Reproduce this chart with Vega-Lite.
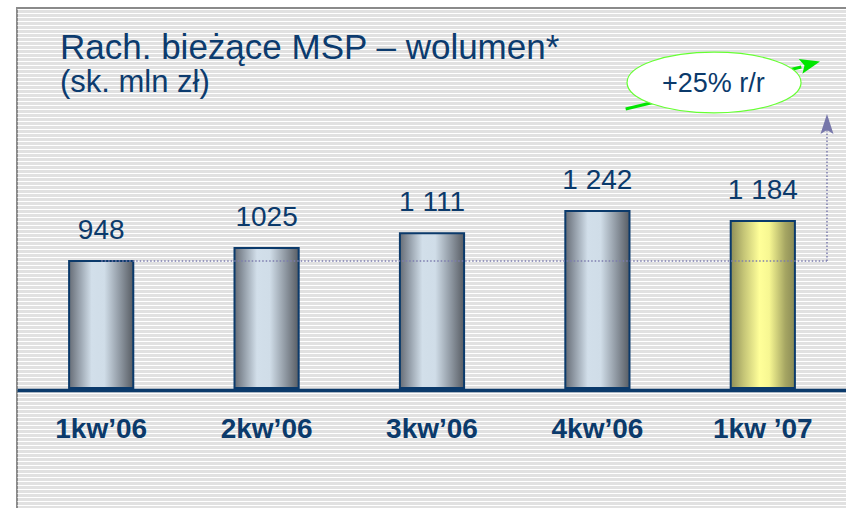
{
  "$schema": "https://vega.github.io/schema/vega-lite/v6.json",
  "width": 830,
  "height": 501,
  "autosize": "none",
  "padding": {"left": 17, "top": 8, "right": 0, "bottom": 0},
  "background": "white",
  "config": {
    "view": {"fill": "#e1e1e1", "stroke": "#8a8a8a", "strokeWidth": 2},
    "font": "Liberation Sans"
  },
  "title": {
    "text": "Rach. bieżące MSP – wolumen*",
    "subtitle": "(sk. mln zł)",
    "anchor": "start",
    "frame": "group",
    "offset": -90,
    "dx": 43,
    "fontSize": 35,
    "fontWeight": "normal",
    "color": "#0c3b6e",
    "font": "Liberation Sans",
    "subtitleFont": "Liberation Sans",
    "subtitleFontSize": 31,
    "subtitleColor": "#0c3b6e",
    "subtitlePadding": 2
  },
  "data": {
    "values": [
      {"q": "1kw’06", "v": 948, "label": "948"},
      {"q": "2kw’06", "v": 1025, "label": "1025"},
      {"q": "3kw’06", "v": 1111, "label": "1 111"},
      {"q": "4kw’06", "v": 1242, "label": "1 242"},
      {"q": "1kw ’07", "v": 1184, "label": "1 184"}
    ]
  },
  "layer": [
    {
      "mark": {"type": "rule", "opacity": 0},
      "encoding": {
        "y": {
          "datum": 0,
          "type": "quantitative",
          "scale": {"domain": [0, 125.25], "nice": false, "zero": false},
          "axis": {
            "orient": "left",
            "grid": true,
            "gridColor": "#ffffff",
            "gridWidth": 1,
            "gridOpacity": 1,
            "tickCount": 125,
            "labels": false,
            "ticks": false,
            "domain": false,
            "title": null
          }
        }
      }
    },
    {
      "layer": [
        {
          "mark": {"type": "bar", "stroke": "#0b3a6b", "strokeWidth": 2},
          "encoding": {
            "x": {
              "field": "q",
              "type": "nominal",
              "sort": null,
              "scale": {
                "domain": ["1kw’06", "2kw’06", "3kw’06", "4kw’06", "1kw ’07"],
                "paddingInner": 0.612,
                "paddingOuter": 0.315
              },
              "axis": {
                "orient": "bottom",
                "offset": -119,
                "title": null,
                "domainColor": "#0b3a6b",
                "domainWidth": 3.5,
                "ticks": false,
                "tickSize": 0,
                "labelPadding": 47,
                "labelBaseline": "alphabetic",
                "labelFontSize": 28,
                "labelFontWeight": "bold",
                "labelColor": "#0b3a6b",
                "labelFont": "Liberation Sans",
                "labelAngle": 0,
                "grid": false,
                "zindex": 1
              }
            },
            "y": {
              "field": "v",
              "type": "quantitative",
              "scale": {"domain": [-510, 2436], "nice": false, "zero": false},
              "axis": null
            },
            "y2": {"datum": 201},
            "fill": {
              "condition": {
                "test": "datum.q === '1kw ’07'",
                "value": {
                  "gradient": "linear", "x1": 0, "y1": 0, "x2": 1, "y2": 0,
                  "stops": [
                    {"offset": 0, "color": "#8e8e58"},
                    {"offset": 0.2, "color": "#c4c476"},
                    {"offset": 0.45, "color": "#ffff99"},
                    {"offset": 0.6, "color": "#f7f792"},
                    {"offset": 0.85, "color": "#a6a663"},
                    {"offset": 1, "color": "#8a8a55"}
                  ]
                }
              },
              "value": {
                "gradient": "linear", "x1": 0, "y1": 0, "x2": 1, "y2": 0,
                "stops": [
                  {"offset": 0, "color": "#676d76"},
                  {"offset": 0.15, "color": "#949ea9"},
                  {"offset": 0.35, "color": "#d2dfea"},
                  {"offset": 0.55, "color": "#d0dde8"},
                  {"offset": 0.8, "color": "#8d96a0"},
                  {"offset": 1, "color": "#585d64"}
                ]
              }
            }
          }
        },
        {
          "mark": {"type": "text", "dy": -22, "baseline": "alphabetic", "fontSize": 28, "color": "#0b3a6b", "font": "Liberation Sans"},
          "encoding": {
            "x": {"field": "q", "type": "nominal", "sort": null},
            "y": {"field": "v", "type": "quantitative"},
            "text": {"field": "label"}
          }
        },
        {
          "data": {"values": [{}]},
          "mark": {"type": "rule", "color": "#7c7cae", "strokeWidth": 1.5, "strokeDash": [1.5, 2]},
          "encoding": {
            "x": {"datum": "1kw’06", "type": "nominal", "bandPosition": 0.5},
            "x2": {"datum": "1kw ’07", "bandPosition": 1.5},
            "y": {"datum": 948, "type": "quantitative"}
          }
        },
        {
          "data": {"values": [{}]},
          "mark": {"type": "rule", "color": "#7c7cae", "strokeWidth": 1.5, "strokeDash": [1.5, 2]},
          "encoding": {
            "x": {"datum": "1kw ’07", "type": "nominal", "bandPosition": 1.5},
            "y": {"datum": 948, "type": "quantitative"},
            "y2": {"datum": 1719}
          }
        },
        {
          "data": {"values": [{}]},
          "mark": {"type": "point", "shape": "M0,-1 L0.65,1 L0,0.6 L-0.65,1 Z", "filled": true, "color": "#7777aa", "opacity": 1, "size": 400},
          "encoding": {
            "x": {"datum": "1kw ’07", "type": "nominal", "bandPosition": 1.5},
            "y": {"datum": 1754, "type": "quantitative"}
          }
        },
        {
          "data": {"values": [{}]},
          "mark": {"type": "rule", "color": "#00e600", "strokeWidth": 3},
          "encoding": {
            "x": {"datum": "4kw’06", "type": "nominal", "bandPosition": 0.94},
            "x2": {"datum": "1kw ’07", "bandPosition": 1.1},
            "y": {"datum": 1842, "type": "quantitative"},
            "y2": {"datum": 2089}
          }
        },
        {
          "data": {"values": [{}]},
          "mark": {"type": "point", "shape": "M-1,-0.75 L1,0 L-1,0.75 L-0.6,0 Z", "filled": true, "color": "#00e600", "opacity": 1, "size": 400, "angle": -14},
          "encoding": {
            "x": {"datum": "1kw ’07", "type": "nominal", "bandPosition": 1.24},
            "y": {"datum": 2107, "type": "quantitative"}
          }
        },
        {
          "data": {"values": [{}]},
          "mark": {"type": "point", "shape": "M-1,0 A1,0.35 0 1,1 1,0 A1,0.35 0 1,1 -1,0 Z", "filled": false, "fill": "#ffffff", "fillOpacity": 1, "stroke": "#66ff33", "strokeWidth": 1.2, "opacity": 1, "size": 30276},
          "encoding": {
            "x": {"datum": "1kw ’07", "type": "nominal", "bandPosition": -0.26},
            "y": {"datum": 1998, "type": "quantitative"}
          }
        },
        {
          "data": {"values": [{}]},
          "mark": {"type": "text", "text": "+25% r/r", "baseline": "alphabetic", "fontSize": 27, "color": "#0b3a6b", "font": "Liberation Sans"},
          "encoding": {
            "x": {"datum": "1kw ’07", "type": "nominal", "bandPosition": -0.27},
            "y": {"datum": 1942, "type": "quantitative"}
          }
        }
      ]
    }
  ],
  "resolve": {"scale": {"y": "independent"}}
}
